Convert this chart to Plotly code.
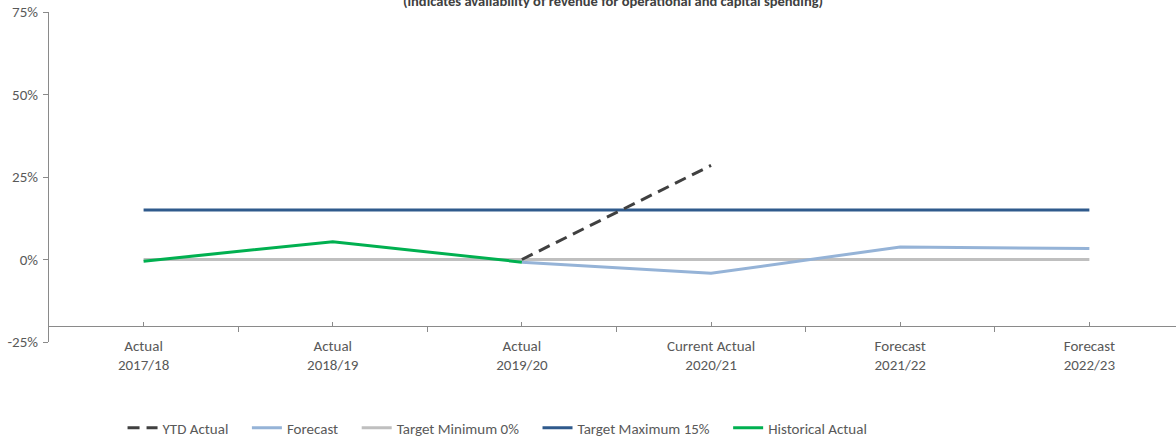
import plotly.graph_objects as go

# Fiscal years on the category axis
categories = ["Actual<br>2017/18", "Actual<br>2018/19", "Actual<br>2019/20",
              "Current Actual<br>2020/21", "Forecast<br>2021/22", "Forecast<br>2022/23"]
positions = [0, 1, 2, 3, 4, 5]

# Ratio series (fractions)
historical_actual = [-0.005, 0.054, -0.008, None, None, None]
forecast = [None, None, -0.008, -0.042, 0.038, 0.033]
ytd_actual = [None, None, 0.0, 0.285, None, None]
target_min = [0.0, 0.0, 0.0, 0.0, 0.0, 0.0]
target_max = [0.15, 0.15, 0.15, 0.15, 0.15, 0.15]

y_ticks = [-0.25, 0.0, 0.25, 0.50, 0.75]
y_tick_text = ["-25%", "0%", "25%", "50%", "75%"]

FONT = "Carlito, Calibri, 'Liberation Sans', Arial, sans-serif"
TEXT = "#595959"
AXIS = "#8a8a8a"
PAD = "\u00a0" * 4  # extra room between legend entries

fig = go.Figure()

fig.add_trace(go.Scatter(x=positions, y=target_min, name="Target Minimum 0%" + PAD,
                         mode="lines", line=dict(color="#bfbfbf", width=3),
                         legendrank=3))
fig.add_trace(go.Scatter(x=positions, y=target_max, name="Target Maximum 15%" + PAD,
                         mode="lines", line=dict(color="#2f5a8c", width=3),
                         legendrank=4))
fig.add_trace(go.Scatter(x=positions, y=forecast, name="Forecast" + PAD,
                         mode="lines", line=dict(color="#95b3d7", width=3),
                         legendrank=2))
fig.add_trace(go.Scatter(x=positions, y=historical_actual, name="Historical Actual",
                         mode="lines", line=dict(color="#00b050", width=3),
                         legendrank=5))
fig.add_trace(go.Scatter(x=positions, y=ytd_actual, name="YTD Actual" + PAD,
                         mode="lines", line=dict(color="#404040", width=3, dash="12px,7px"),
                         legendrank=1))

fig.update_layout(
    width=1176, height=439,
    margin=dict(l=49, r=0, t=12, b=97),
    paper_bgcolor="white", plot_bgcolor="white",
    font=dict(family=FONT, size=15, color=TEXT),
    showlegend=True,
    legend=dict(orientation="h", x=0.398, xanchor="center",
                yref="container", y=0.025, yanchor="middle",
                font=dict(family=FONT, size=15, color=TEXT),
                itemwidth=30, traceorder="normal"),
    xaxis=dict(
        range=[-0.5, 5.458], tickmode="array", tickvals=positions, ticktext=categories,
        showgrid=False, zeroline=False, showline=True, linecolor=AXIS, linewidth=1,
        ticks="inside", ticklen=4, tickcolor=AXIS,
        minor=dict(tickvals=[0.5, 1.5, 2.5, 3.5, 4.5], ticks="outside", ticklen=5,
                   tickcolor=AXIS, showgrid=False),
        anchor="free", position=0.05,
        tickfont=dict(family=FONT, size=15, color=TEXT),
        ticklabelstandoff=6,
    ),
    yaxis=dict(
        range=[-0.25, 0.75], tickvals=y_ticks, ticktext=y_tick_text,
        showgrid=False, zeroline=False, showline=True, linecolor=AXIS, linewidth=1,
        ticks="outside", ticklen=5, tickcolor=AXIS,
        tickfont=dict(family=FONT, size=15, color=TEXT),
        ticklabelstandoff=2,
    ),
)

fig.add_annotation(
    text="<b>(indicates availability of revenue for operational and capital spending)</b>",
    xref="paper", yref="paper", x=0.5, y=1.0, yshift=11, xshift=0,
    xanchor="center", yanchor="middle", showarrow=False,
    font=dict(family=FONT, size=14.5, color="#404040"),
)

fig.write_html("out.html")
